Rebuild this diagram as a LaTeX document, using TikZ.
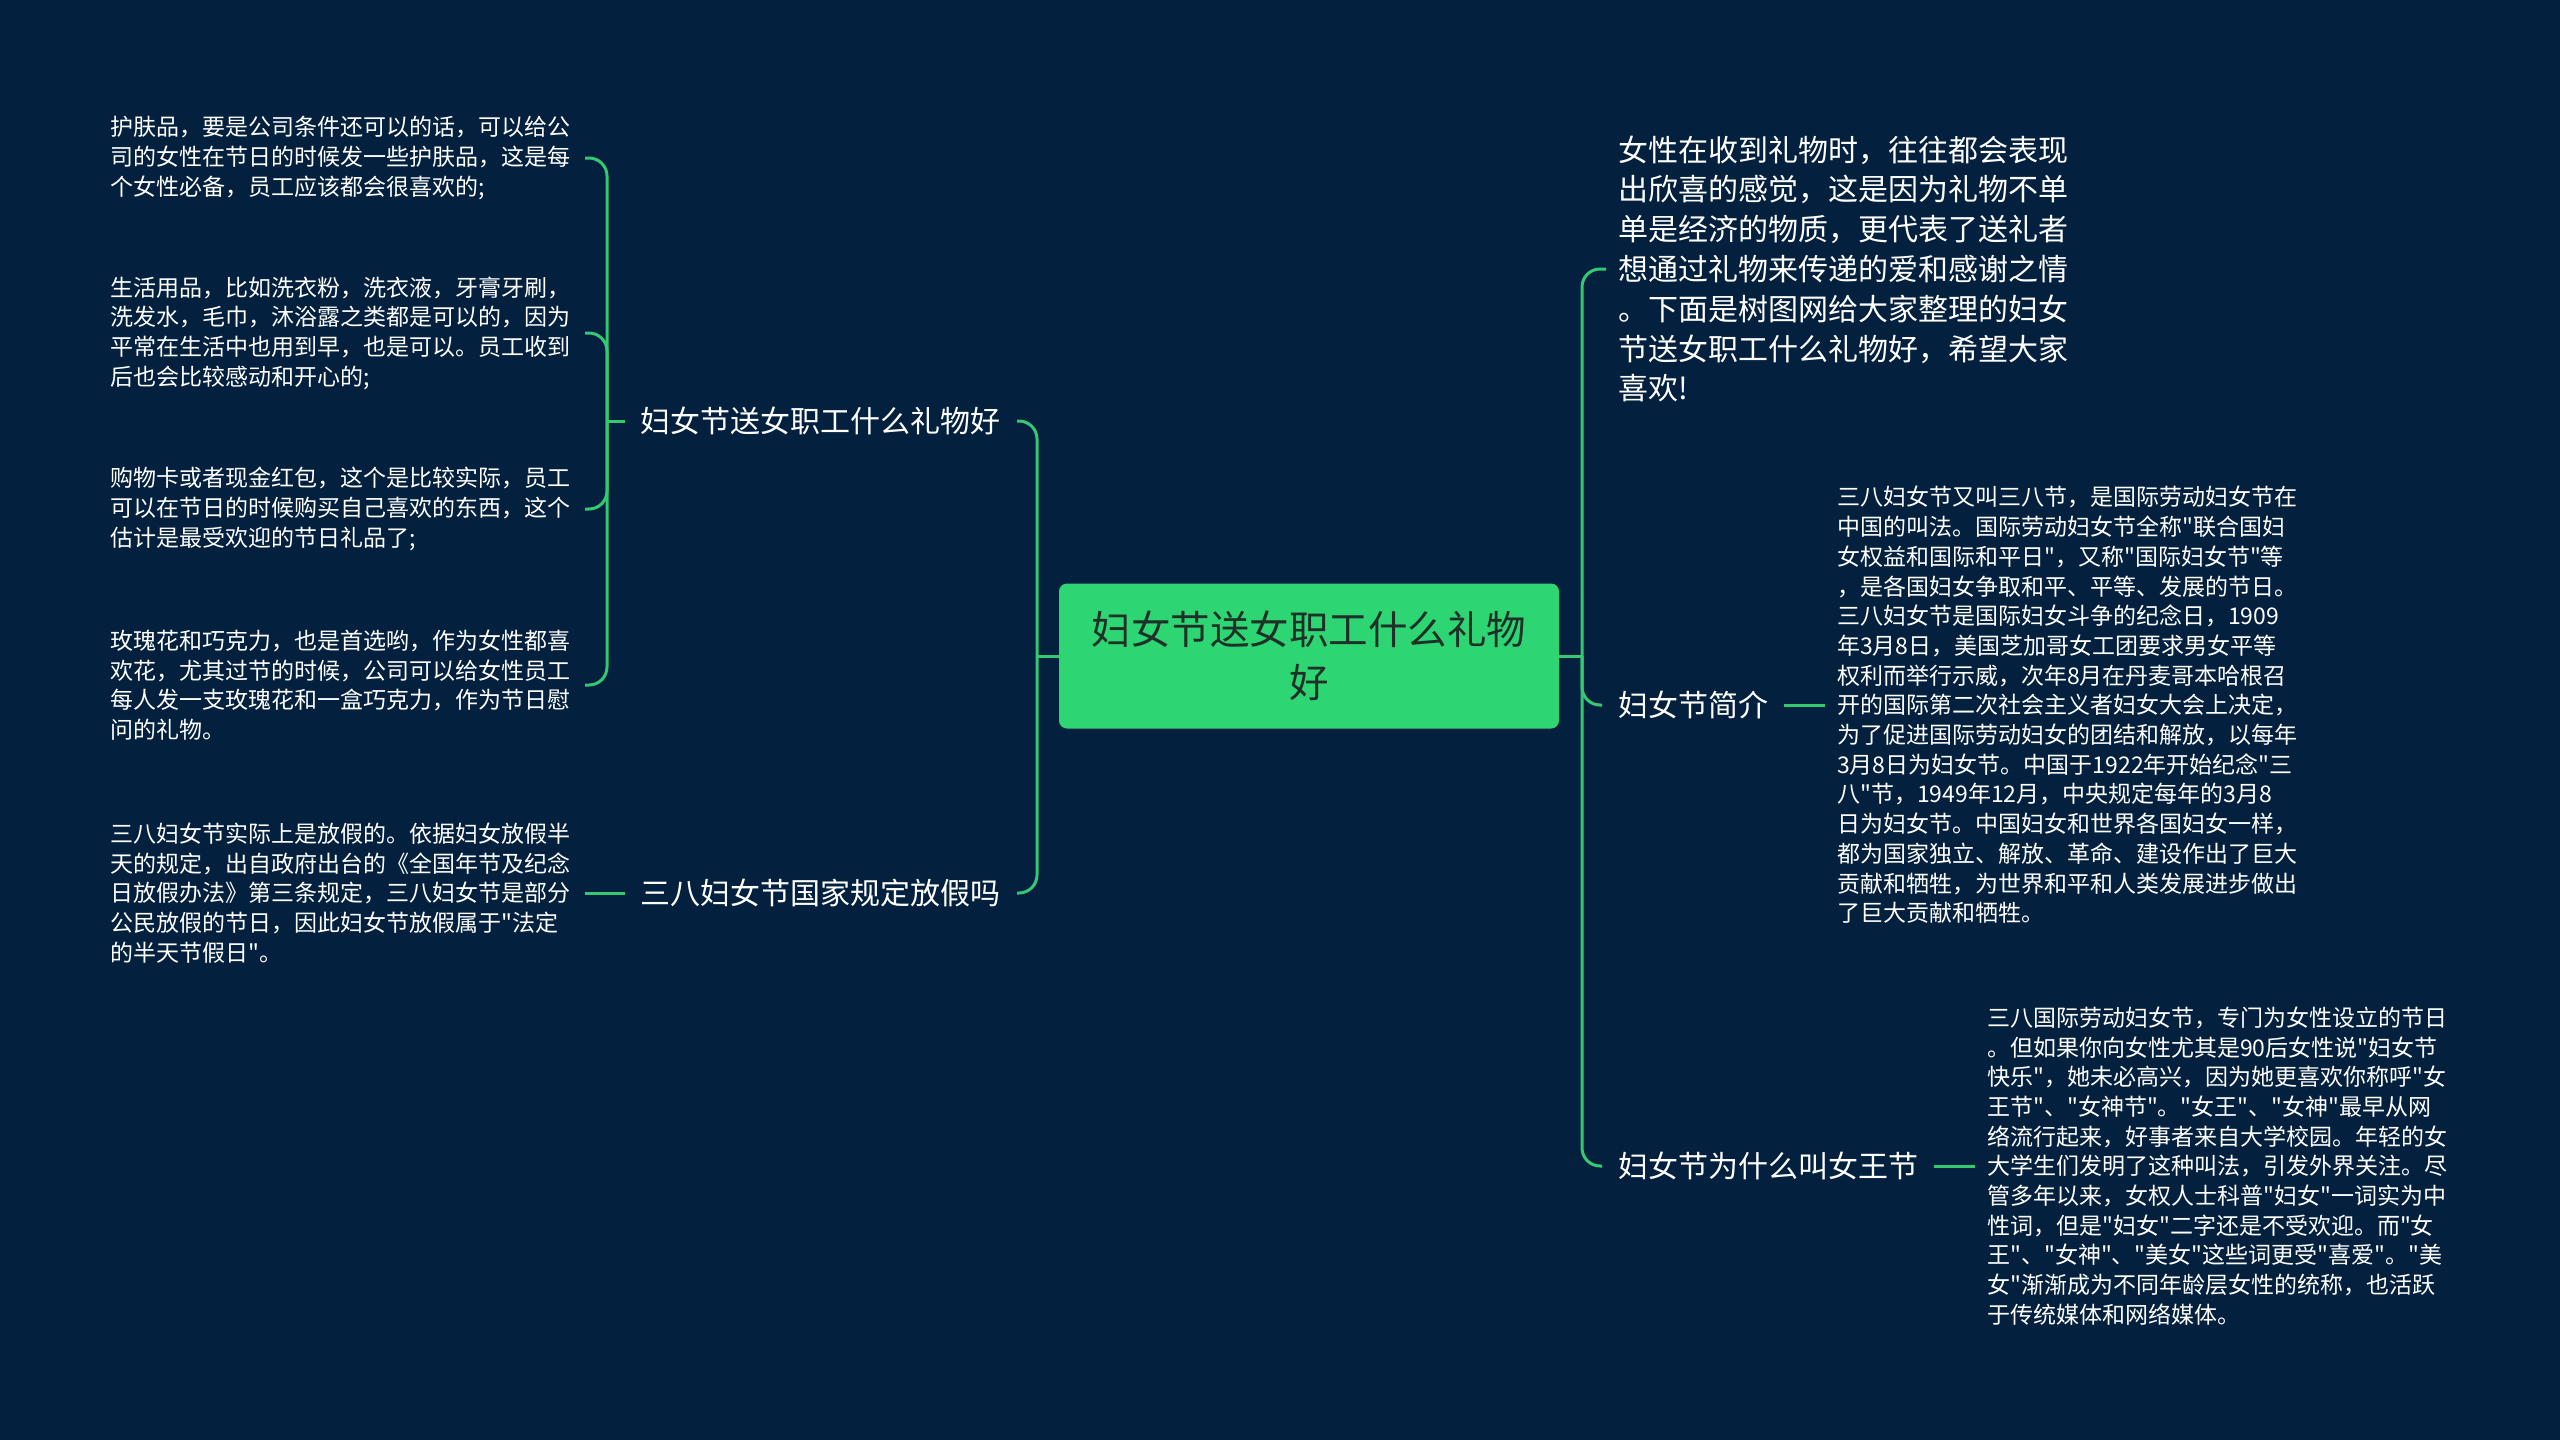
\documentclass[tikz,border=0pt]{standalone}
\usepackage{fontspec}
\setmainfont{Noto Sans CJK SC}[Ligatures=TeXOff]
\usetikzlibrary{positioning}
\definecolor{ShuNavy}{RGB}{3,33,62}
\definecolor{ShuGreen}{RGB}{46,213,115}
\definecolor{ShuLine}{RGB}{52,200,112}
\definecolor{ShuInk}{RGB}{30,48,40}
\tikzset{
  shu/root/.style={
    fill=ShuGreen,
    rounded corners=8pt,
    align=center,
    text=ShuInk,
    minimum width=500pt,
    minimum height=145pt,
    font=\fontsize{39.5}{53}\selectfont
  },
  shu/topic/.style={
    text=white,
    inner xsep=16pt,
    inner ysep=4pt,
    font=\fontsize{30}{40}\selectfont
  },
  shu/leaf/.style={
    text=white,
    align=left,
    inner xsep=12pt,
    inner ysep=4pt,
    font=\fontsize{23}{29.7}\selectfont
  },
  shu/link/.style={draw=ShuLine, line width=3pt, rounded corners=18pt}
}

\begin{document}
\begin{tikzpicture}[x=1pt,y=-1pt]
  \fill[ShuNavy] (0,0) rectangle (2560,1440);
  \useasboundingbox (0,0) rectangle (2560,1440);

  % centre
  \node[shu/root] (root) at (1309,656) {妇女节送女职工什么礼物\\好};

  % left side
  \node[shu/topic,anchor=east] (gift) at (1017,421) {妇女节送女职工什么礼物好};
  \node[shu/topic,anchor=east] (holiday) at (1017,893) {三八妇女节国家规定放假吗};

  \node[shu/leaf,anchor=east,text width=462pt] (care) at (585,158)
    {护肤品，要是公司条件还可以的话，可以给公\\司的女性在节日的时候发一些护肤品，这是每\\个女性必备，员工应该都会很喜欢的;};
  \node[shu/leaf,anchor=east,text width=462pt] (daily) at (585,333)
    {生活用品，比如洗衣粉，洗衣液，牙膏牙刷，\\洗发水，毛巾，沐浴露之类都是可以的，因为\\平常在生活中也用到早，也是可以。员工收到\\后也会比较感动和开心的;};
  \node[shu/leaf,anchor=east,text width=462pt] (card) at (585,509)
    {购物卡或者现金红包，这个是比较实际，员工\\可以在节日的时候购买自己喜欢的东西，这个\\估计是最受欢迎的节日礼品了;};
  \node[shu/leaf,anchor=east,text width=462pt] (rose) at (585,685)
    {玫瑰花和巧克力，也是首选哟，作为女性都喜\\欢花，尤其过节的时候，公司可以给女性员工\\每人发一支玫瑰花和一盒巧克力，作为节日慰\\问的礼物。};
  \node[shu/leaf,anchor=east,text width=462pt] (holidaytext) at (585,893)
    {三八妇女节实际上是放假的。依据妇女放假半\\天的规定，出自政府出台的《全国年节及纪念\\日放假办法》第三条规定，三八妇女节是部分\\公民放假的节日，因此妇女节放假属于"法定\\的半天节假日"。};

  % right side
  \node[shu/leaf,anchor=west,text width=452pt,font=\fontsize{30}{39.8}\selectfont] (thanks) at (1606,269)
    {女性在收到礼物时，往往都会表现\\出欣喜的感觉，这是因为礼物不单\\单是经济的物质，更代表了送礼者\\想通过礼物来传递的爱和感谢之情\\。下面是树图网给大家整理的妇女\\节送女职工什么礼物好，希望大家\\喜欢!};
  \node[shu/topic,anchor=west] (intro) at (1602,705) {妇女节简介};
  \node[shu/leaf,anchor=west,text width=466pt] (introtext) at (1825,705)
    {三八妇女节又叫三八节，是国际劳动妇女节在\\中国的叫法。国际劳动妇女节全称"联合国妇\\女权益和国际和平日"，又称"国际妇女节"等\\，是各国妇女争取和平、平等、发展的节日。\\三八妇女节是国际妇女斗争的纪念日，1909\\年3月8日，美国芝加哥女工团要求男女平等\\权利而举行示威，次年8月在丹麦哥本哈根召\\开的国际第二次社会主义者妇女大会上决定，\\为了促进国际劳动妇女的团结和解放，以每年\\3月8日为妇女节。中国于1922年开始纪念"三\\八"节，1949年12月，中央规定每年的3月8\\日为妇女节。中国妇女和世界各国妇女一样，\\都为国家独立、解放、革命、建设作出了巨大\\贡献和牺牲，为世界和平和人类发展进步做出\\了巨大贡献和牺牲。};
  \node[shu/topic,anchor=west] (queen) at (1602,1166) {妇女节为什么叫女王节};
  \node[shu/leaf,anchor=west,text width=466pt] (queentext) at (1975,1166)
    {三八国际劳动妇女节，专门为女性设立的节日\\。但如果你向女性尤其是90后女性说"妇女节\\快乐"，她未必高兴，因为她更喜欢你称呼"女\\王节"、"女神节"。"女王"、"女神"最早从网\\络流行起来，好事者来自大学校园。年轻的女\\大学生们发明了这种叫法，引发外界关注。尽\\管多年以来，女权人士科普"妇女"一词实为中\\性词，但是"妇女"二字还是不受欢迎。而"女\\王"、"女神"、"美女"这些词更受"喜爱"。"美\\女"渐渐成为不同年龄层女性的统称，也活跃\\于传统媒体和网络媒体。};

  % connectors
  \coordinate (ljoin) at (1037,656);
  \coordinate (rjoin) at (1582,656);
  \coordinate (gjoin) at (607,421);
  \draw[shu/link] (root.west) -- (ljoin);
  \draw[shu/link] (ljoin) |- (gift.east);
  \draw[shu/link] (ljoin) |- (holiday.east);
  \draw[shu/link] (gift.west) -- (gjoin);
  \foreach \leaf in {care,daily,card,rose}
    \draw[shu/link] (gjoin) |- (\leaf.east);
  \draw[shu/link] (holiday.west) -- (holidaytext.east);
  \draw[shu/link] (root.east) -- (rjoin);
  \foreach \leaf in {thanks,intro,queen}
    \draw[shu/link] (rjoin) |- (\leaf.west);
  \draw[shu/link] (intro.east) -- (introtext.west);
  \draw[shu/link] (queen.east) -- (queentext.west);
\end{tikzpicture}
\end{document}
